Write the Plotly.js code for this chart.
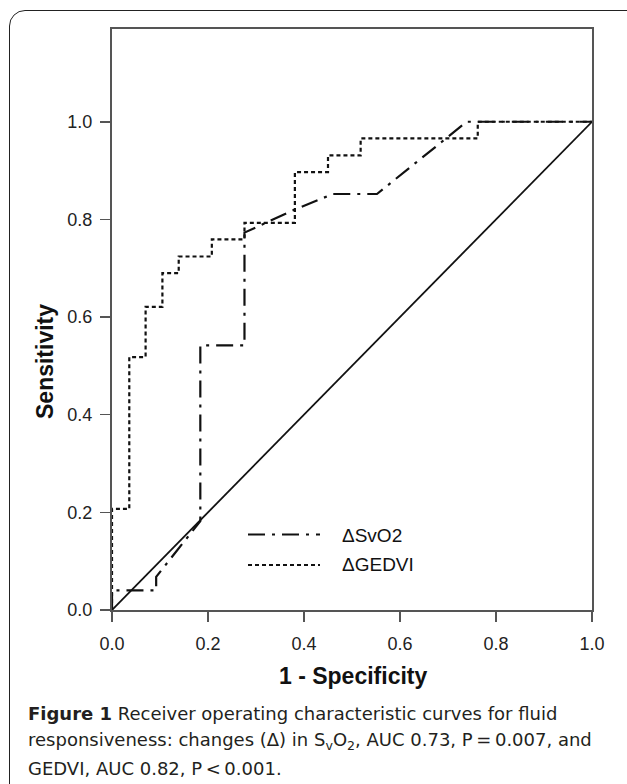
<!DOCTYPE html>
<html>
<head>
<meta charset="utf-8">
<script src="https://cdn.plot.ly/plotly-3.0.1.min.js"></script>
<style>
  html, body { margin: 0; padding: 0; background: #fff; overflow: hidden; }
  #wrap { position: relative; width: 627px; height: 784px; }
  #chart { position: absolute; left: 0; top: 0; width: 627px; height: 784px; }
  #frame { position: absolute; left: 9px; top: 10px; width: 640px; height: 800px;
           border: 1.6px solid #222; border-radius: 16px; pointer-events: none; z-index: 5; }
</style>
</head>
<body>
<div id="wrap">
  <div id="chart"></div>
  <div id="frame"></div>
</div>
<script>
// ---- data ----
var svo2X  = [0, 0, 0.092, 0.092, 0.184, 0.184, 0.276, 0.276, 0.380, 0.460, 0.552, 0.739, 1.0];
var svo2Y  = [0, 0.040, 0.040, 0.068, 0.182, 0.542, 0.542, 0.773, 0.820, 0.852, 0.852, 1.0, 1.0];
var gedviX = [0, 0, 0.036, 0.036, 0.070, 0.070, 0.105, 0.105, 0.139, 0.139, 0.208, 0.208, 0.276, 0.276, 0.381, 0.381, 0.450, 0.450, 0.518, 0.518, 0.762, 0.762, 1.0];
var gedviY = [0, 0.207, 0.207, 0.518, 0.518, 0.621, 0.621, 0.690, 0.690, 0.724, 0.724, 0.759, 0.759, 0.793, 0.793, 0.897, 0.897, 0.931, 0.931, 0.966, 0.966, 1.0, 1.0];
var refX   = [0, 1];
var refY   = [0, 1];
var tickVals   = [0, 0.2, 0.4, 0.6, 0.8, 1.0];
var tickLabels = ['0.0', '0.2', '0.4', '0.6', '0.8', '1.0'];
var seriesNames = ['\u0394SvO2', '\u0394GEDVI'];

// ---- layout geometry ----
var W = 627, H = 784;
var mL = 112, mR = 35, mT = 29, mB = 174;
var pw = W - mL - mR, ph = H - mT - mB;
function px(x) { return (x - mL) / pw; }
function py(y) { return (H - mB - y) / ph; }

var axisFont = { family: 'Liberation Sans, Arial, sans-serif', size: 18, color: '#222' };
var titleFont = { family: 'Liberation Sans, Arial, sans-serif', size: 23, color: '#111' };
var capFont = { family: 'DejaVu Sans, sans-serif', size: 18, color: '#231f20' };

var traces = [
  { x: refX, y: refY, mode: 'lines', line: { color: '#111', width: 1.8 }, showlegend: false, hoverinfo: 'skip' },
  { x: gedviX, y: gedviY, name: seriesNames[1], mode: 'lines', line: { color: '#111', width: 2.2, dash: '4px,3px' }, showlegend: false },
  { x: svo2X, y: svo2Y, name: seriesNames[0], mode: 'lines', line: { color: '#111', width: 2.2, dash: '17px,7px,3px,7px' }, showlegend: false }
];

var axisCommon = {
  showgrid: false, zeroline: false, showline: true, mirror: true,
  linecolor: '#555', linewidth: 2,
  ticks: 'outside', ticklen: 10, tickwidth: 1.5, tickcolor: '#555',
  tickfont: axisFont, tickvals: tickVals, ticktext: tickLabels
};

var layout = {
  width: W, height: H,
  margin: { l: mL, r: mR, t: mT, b: mB, pad: 0 },
  paper_bgcolor: '#fff', plot_bgcolor: '#fff',
  showlegend: false,
  xaxis: Object.assign({}, axisCommon, { range: [0, 1], ticklabelstandoff: 6 }),
  yaxis: Object.assign({}, axisCommon, { range: [0, 1.19], ticklabelstandoff: 4 }),
  shapes: [
    { type: 'line', xref: 'paper', yref: 'paper', x0: px(248), x1: px(320), y0: py(534.5), y1: py(534.5),
      line: { color: '#111', width: 2.2, dash: '17px,7px,3px,7px' } },
    { type: 'line', xref: 'paper', yref: 'paper', x0: px(248), x1: px(320), y0: py(565), y1: py(565),
      line: { color: '#111', width: 2.2, dash: '4px,3px' } }
  ],
  annotations: [
    { text: seriesNames[0], xref: 'paper', yref: 'paper', x: px(340), y: py(535), xanchor: 'left', yanchor: 'middle',
      showarrow: false, font: { family: 'Liberation Sans, Arial, sans-serif', size: 19, color: '#111' } },
    { text: seriesNames[1], xref: 'paper', yref: 'paper', x: px(340), y: py(564), xanchor: 'left', yanchor: 'middle',
      showarrow: false, font: { family: 'Liberation Sans, Arial, sans-serif', size: 19, color: '#111' } },
    { text: '<b>1 - Specificity</b>', xref: 'paper', yref: 'paper', x: px(352.5), y: py(676), xanchor: 'center', yanchor: 'middle',
      showarrow: false, font: titleFont },
    { text: '<b>Sensitivity</b>', xref: 'paper', yref: 'paper', x: px(45), y: py(362), xanchor: 'center', yanchor: 'middle',
      textangle: -90, showarrow: false, font: titleFont },
    { text: '<b>Figure 1</b> Receiver operating characteristic curves for fluid', xref: 'paper', yref: 'paper',
      x: px(26), y: py(713), xanchor: 'left', yanchor: 'middle', showarrow: false, font: capFont },
    { text: 'responsiveness: changes (\u0394) in S<sub>v</sub>O<sub>2</sub>, AUC 0.73, P\u2009=\u20090.007, and', xref: 'paper', yref: 'paper',
      x: px(26), y: py(741), xanchor: 'left', yanchor: 'middle', showarrow: false, font: capFont },
    { text: 'GEDVI, AUC 0.82, P\u2009&lt;\u20090.001.', xref: 'paper', yref: 'paper',
      x: px(26), y: py(768), xanchor: 'left', yanchor: 'middle', showarrow: false, font: capFont }
  ]
};

Plotly.newPlot('chart', traces, layout, { staticPlot: true, displayModeBar: false });
</script>
</body>
</html>
